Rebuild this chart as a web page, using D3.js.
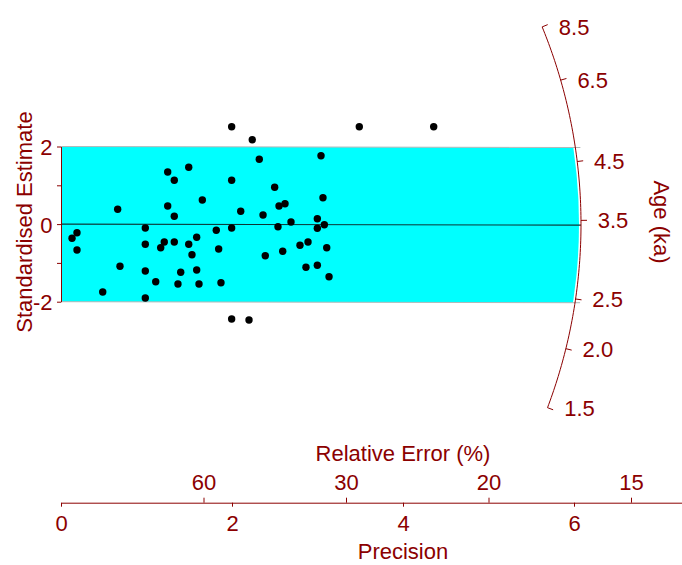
<!DOCTYPE html>
<html>
<head>
<meta charset="utf-8">
<script src="https://cdnjs.cloudflare.com/ajax/libs/d3/7.8.5/d3.min.js"></script>
<style>
  body { margin: 0; background: #fff; }
  text { font-family: "Liberation Sans", Arial, sans-serif; font-size: 22px; fill: #8b0000; }
</style>
</head>
<body>
<div id="chart"></div>
<script>
// Radial plot data: precision (1/rel. error) and standardised estimate of each aliquot
var precision = [1.996, 2.237, 1.494, 1.248, 1.325, 1.996, 2.319, 3.041, 2.499, 1.653,
  3.064, 0.663, 1.248, 1.325, 2.102, 2.363, 2.550, 2.620, 2.998, 2.690,
  3.080, 0.187, 0.129, 0.187, 0.986, 1.996, 1.816, 2.538, 2.998, 0.986,
  1.208, 1.166, 1.325, 1.494, 1.587, 1.532, 1.844, 2.389, 2.593, 2.795,
  2.889, 3.108, 0.690, 0.986, 1.400, 1.587, 1.108, 1.368, 1.614, 1.871,
  0.488, 0.986, 2.865, 2.998, 3.135, 1.996, 2.199, 3.489, 4.359];
var stdEstimate = [2.510, 2.175, 1.464, 1.343, 1.129, 1.129, 1.670, 1.763, 0.948, 0.621,
  0.680, 0.381, 0.466, 0.201, 0.330, 0.235, 0.466, 0.526, 0.139, 0.054,
  -0.015, -0.222, -0.366, -0.668, -0.101, -0.101, -0.160, -0.067, -0.108, -0.521,
  -0.461, -0.608, -0.461, -0.521, -0.340, -0.789, -0.642, -0.814, -0.701, -0.546,
  -0.461, -0.608, -1.088, -1.209, -1.242, -1.183, -1.485, -1.544, -1.544, -1.510,
  -1.750, -1.905, -1.113, -1.062, -1.356, -2.446, -2.472, 2.510, 2.510];

// axis ticks
var zTicks = [-2, -1, 0, 1, 2];
var zLabels = ["-2", "", "0", "", "2"];
var precisionTicks = [0, 2, 4, 6];
var relErrorTicks = [60, 30, 20, 15];
var ageTicks = [1.5, 2.0, 2.5, 3.5, 4.5, 6.5, 8.5];

// reference age used for standardising, and central age (ka)
var refAge = 3.445;
var centralAge = 3.43;

var width = 682, height = 565;
var col = "#8b0000";

var svg = d3.select("#chart").append("svg")
  .attr("width", width)
  .attr("height", height);

var x = d3.scaleLinear().domain([0, 7.3]).range([61, 61 + 7.3 * 85.5]);
var y = d3.scaleLinear().domain([-2, 2]).range([301.7, 146.5]);

var ox = x(0), oy = y(0);
var arcR = 520;

// point on the age arc (pixel radius r) for a given age
function agePoint(age, r) {
  var s = Math.log(age) - Math.log(refAge);
  var dx = x(1) - x(0), dy = y(s) - y(0);
  var len = Math.sqrt(dx * dx + dy * dy);
  return [ox + r * dx / len, oy + r * dy / len];
}

// clip paths round the origin
var defs = svg.append("defs");
defs.append("clipPath").attr("id", "bandClip")
  .append("circle").attr("cx", ox).attr("cy", oy).attr("r", arcR - 2);
defs.append("clipPath").attr("id", "edgeClip")
  .append("circle").attr("cx", ox).attr("cy", oy).attr("r", arcR + 5);
defs.append("clipPath").attr("id", "lineClip")
  .append("circle").attr("cx", ox).attr("cy", oy).attr("r", arcR);

var sc = Math.log(centralAge) - Math.log(refAge);
var xEnd = 7.3;

// +/- 2 sigma band
svg.append("polygon")
  .attr("clip-path", "url(#bandClip)")
  .attr("points", [[x(0), y(2)], [x(xEnd), y(2 + sc * xEnd)],
    [x(xEnd), y(-2 + sc * xEnd)], [x(0), y(-2)]].join(" "))
  .style("fill", "#00ffff");

[-2, 2].forEach(function(off) {
  svg.append("line")
    .attr("clip-path", "url(#edgeClip)")
    .attr("x1", x(0)).attr("y1", y(off))
    .attr("x2", x(xEnd)).attr("y2", y(off + sc * xEnd))
    .style("stroke", "#b0b8b8").style("stroke-width", 1);
});

// central line
svg.append("line")
  .attr("clip-path", "url(#lineClip)")
  .attr("x1", x(0)).attr("y1", y(0))
  .attr("x2", x(xEnd)).attr("y2", y(sc * xEnd))
  .style("stroke", "#0d3535").style("stroke-width", 1.2);

// points
svg.append("g").selectAll("circle")
  .data(precision)
  .enter().append("circle")
  .attr("cx", function(d) { return x(d); })
  .attr("cy", function(d, i) { return y(stdEstimate[i]); })
  .attr("r", 3.7)
  .style("fill", "#000");

// left z axis
var yAxis = svg.append("g")
  .attr("transform", "translate(" + ox + ",0)")
  .call(d3.axisLeft(y).tickValues(zTicks)
    .tickFormat(function(d, i) { return zLabels[i]; })
    .tickSize(4).tickSizeOuter(0).tickPadding(4.5));
yAxis.attr("color", col).attr("font-size", 22).attr("font-family", null);
yAxis.selectAll("text").attr("dy", "0.36em");

svg.append("text")
  .attr("transform", "translate(32," + 222 + ") rotate(-90)")
  .style("text-anchor", "middle")
  .text("Standardised Estimate");

// bottom precision axis
var axisY = 502.7;
var xAxis = svg.append("g")
  .attr("transform", "translate(0," + axisY + ")")
  .call(d3.axisBottom(x).tickValues(precisionTicks)
    .tickSize(4).tickSizeOuter(0).tickPadding(9));
xAxis.attr("color", col).attr("font-size", 22).attr("font-family", null);

// relative error ticks on top of the same line
var reAxis = svg.append("g")
  .attr("transform", "translate(0," + axisY + ")")
  .call(d3.axisTop(x).tickValues(relErrorTicks.map(function(r) { return 100 / r; }))
    .tickFormat(function(d, i) { return relErrorTicks[i]; })
    .tickSize(5).tickSizeOuter(0).tickPadding(7.7));
reAxis.attr("color", col).attr("font-size", 22).attr("font-family", null);
reAxis.select(".domain").remove();

svg.append("text")
  .attr("x", 403).attr("y", 461)
  .style("text-anchor", "middle")
  .text("Relative Error (%)");

svg.append("text")
  .attr("x", 403).attr("y", 559)
  .style("text-anchor", "middle")
  .text("Precision");

// age arc
var arcAges = d3.range(0, 101).map(function(i) {
  return Math.exp(Math.log(ageTicks[0]) + i / 100 * (Math.log(ageTicks[ageTicks.length - 1]) - Math.log(ageTicks[0])));
});
svg.append("path")
  .attr("d", d3.line()(arcAges.map(function(a) { return agePoint(a, arcR); })))
  .style("fill", "none")
  .style("stroke", col)
  .style("stroke-width", 1);

var ageG = svg.append("g");
ageTicks.forEach(function(a) {
  var p0 = agePoint(a, arcR), p1 = agePoint(a, arcR + 6);
  ageG.append("line")
    .attr("x1", p0[0]).attr("y1", p0[1])
    .attr("x2", p1[0]).attr("y2", p1[1])
    .style("stroke", col).style("stroke-width", 1);
  ageG.append("text")
    .attr("x", p0[0] + 32).attr("y", p0[1])
    .attr("dy", "0.36em")
    .style("text-anchor", "middle")
    .text(d3.format(".1f")(a));
});

svg.append("text")
  .attr("transform", "translate(654,222) rotate(90)")
  .style("text-anchor", "middle")
  .text("Age (ka)");
</script>
</body>
</html>
